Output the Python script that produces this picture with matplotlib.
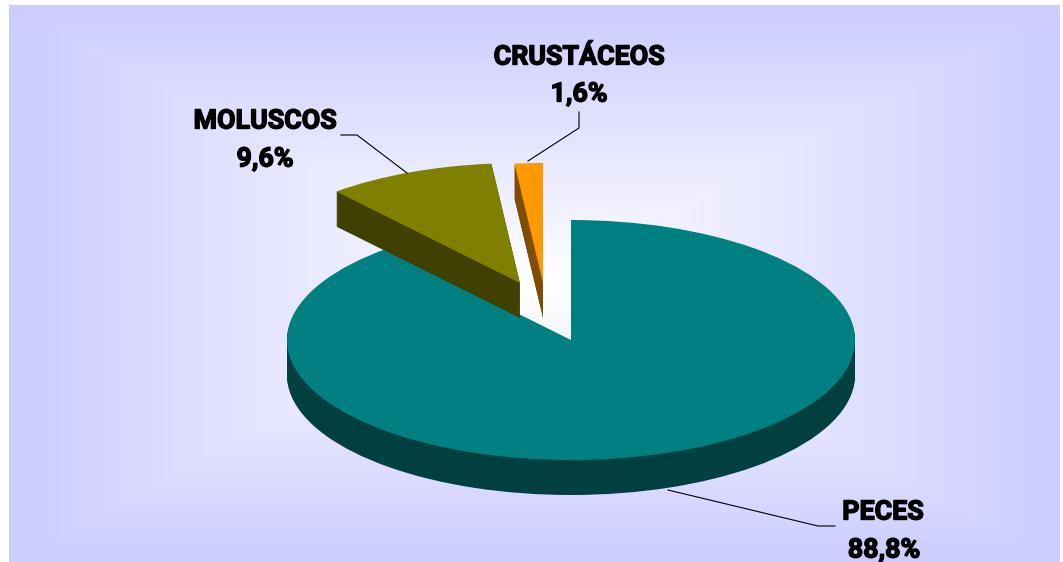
import numpy as np
import matplotlib
matplotlib.use("Agg")
import matplotlib.pyplot as plt
import matplotlib.patheffects as pe
from matplotlib.colors import LinearSegmentedColormap

categories = ["PECES", "MOLUSCOS", "CRUSTÁCEOS"]
shares = [88.8, 9.6, 1.6]
share_labels = ["88,8%", "9,6%", "1,6%"]

top_colors = ["#008080", "#808000", "#FF9900"]
side_colors = ["#004040", "#404000", "#804C00"]

W, H = 1063, 562
# pie geometry, px
CX, CY, RX, RY, DEPTH = 571, 340, 284, 120, 35
shift_px = [(0, 0), (-51, -57), (-28, -57)]
label_xy = [((883, 509), (884, 547)), ((265, 118), (265, 156)), ((579, 54), (579, 91))]
leaders = [[(668, 490), (818, 526), (835, 526)],
           [(341, 135), (357, 135), (407, 173)],
           [(579, 112), (579, 128), (528, 161)]]

fig = plt.figure(figsize=(W / 100, H / 100), dpi=100, facecolor="white")

# background: rectangular path gradient
bg = fig.add_axes([0, 0, 1, 1], zorder=0)
bg.axis("off")
x0, x1, y0, y1 = 9, 1060, 5, 562
xs = np.arange(x0, x1) + 0.5
ys = np.arange(y0, y1) + 0.5
gx, gy = np.meshgrid(xs, ys)
t = np.maximum(np.abs(gx - (x0 + x1) / 2) / ((x1 - x0) / 2),
               np.abs(gy - (y0 + y1) / 2) / ((y1 - y0) / 2))
cmap = LinearSegmentedColormap.from_list("bg", ["#FFFFFF", "#CCCCFF"])
bg.imshow(t, extent=(x0, x1, y1, y0), cmap=cmap, vmin=0, vmax=1, aspect="auto",
          interpolation="nearest")
bg.set_xlim(0, W)
bg.set_ylim(H, 0)

# pie axes: one data unit = RX px across and RY px down
ax = fig.add_axes([0, 0, 1, 1], zorder=1)
for layer in range(DEPTH, -1, -1):
    wedges, _ = ax.pie(shares, startangle=90, counterclock=False, radius=1)
    for i, w in enumerate(wedges):
        dx, dy = shift_px[i]
        w.set_center((dx / RX, -(dy + layer) / RY))
        w.set_facecolor(top_colors[i] if layer == 0 else side_colors[i])
        w.set_edgecolor("none")
        w.set_linewidth(0)
        w.set_zorder((i + 1) * 1000 - layer)
ax.set_aspect("auto")
ax.set_xlim(-CX / RX, (W - CX) / RX)
ax.set_ylim(-(H - CY) / RY, CY / RY)
ax.axis("off")
ax.patch.set_alpha(0)

# labels and leader lines
ov = fig.add_axes([0, 0, 1, 1], zorder=2)
ov.set_xlim(0, W)
ov.set_ylim(H, 0)
ov.axis("off")
ov.patch.set_alpha(0)
for i, name in enumerate(categories):
    pts = np.array(leaders[i])
    ov.plot(pts[:, 0], pts[:, 1], color="black", lw=0.8, solid_joinstyle="miter")
    for txt, (tx, ty) in zip((name, share_labels[i]), label_xy[i]):
        ov.text(tx, ty, txt, ha="center", va="center_baseline", family="Roboto",
                fontweight="bold", fontsize=19.3, color="black",
                path_effects=[pe.withStroke(linewidth=1.0, foreground="black")])

fig.savefig("out.png", dpi=100)
